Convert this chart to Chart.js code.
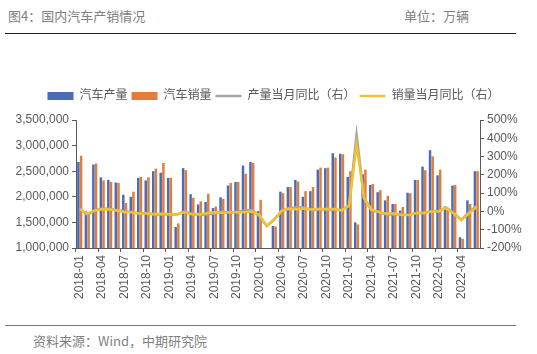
<!DOCTYPE html>
<html>
<head>
<meta charset="utf-8">
<script src="https://cdn.jsdelivr.net/npm/chart.js@4.4.1/dist/chart.umd.min.js"></script>
<style>
body{margin:0;width:537px;height:354px;background:#fff;position:relative;overflow:hidden;font-family:"Noto Sans CJK SC",sans-serif;}
.t{position:absolute;color:#7f7f7f;font-size:13px;line-height:16px;white-space:nowrap;}
.rule{position:absolute;left:5px;width:511px;height:1px;}
#box{position:absolute;left:0;top:78px;width:537px;height:236px;}
</style>
</head>
<body>
<div class="t" style="left:8px;top:8px">图4：国内汽车产销情况</div>
<div class="t" style="left:404px;top:8px">单位：万辆</div>
<div class="rule" style="top:33px;background:#222"></div>
<div id="box"><canvas id="autoCanvas"></canvas></div>
<div class="rule" style="top:325px;background:#777"></div>
<div class="t" style="left:33px;top:333px">资料来源：Wind，中期研究院</div>
<script>
// months on the x axis
const months = [
  "2018-01","2018-02","2018-03","2018-04","2018-05","2018-06","2018-07","2018-08","2018-09","2018-10","2018-11","2018-12",
  "2019-01","2019-02","2019-03","2019-04","2019-05","2019-06","2019-07","2019-08","2019-09","2019-10","2019-11","2019-12",
  "2020-01","2020-02","2020-03","2020-04","2020-05","2020-06","2020-07","2020-08","2020-09","2020-10","2020-11","2020-12",
  "2021-01","2021-02","2021-03","2021-04","2021-05","2021-06","2021-07","2021-08","2021-09","2021-10","2021-11","2021-12",
  "2022-01","2022-02","2022-03","2022-04","2022-05","2022-06"
];
// volumes in 万辆
const prodVol = [
  268,172,263,238,233,228,204,200,237,232,250,247,
  237,141,256,205,185,190,178,199,222,229,261,268,
  172,28.5,143,210,219,233,200,211,253,256,285,284,
  239,150,244,223,209,193,186,173,208,233,259,291,
  242,181,222,121,193,250
];
const salesVol = [
  280,170,265,232,229,227,188,210,239,238,255,266,
  237,148,252,198,191,206,181,196,227,229,245,266,
  194,31,142,207,219,230,211,219,257,257,277,283,
  250,146,253,225,213,202,186,180,207,233,252,279,
  253,174,223,118,186,250
];
// year on year, %
const prodYoy = [
  16,-19,6,16,13,6,1,-4,-11,-10,-18,-17,
  -17,-17,0,-14,-20,-17,-12,-1,-7,-2,4,8,
  -25,-80,-45,2,18,23,21,6,12,11,9,6,
  35,421,70,6,-5,-17,-16,-19,-18,-9,-9,2,
  1,21,-9,-46,-6,28
];
const salesYoy = [
  12,-11,5,12,10,5,-4,-4,-12,-12,-14,-13,
  -16,-14,-5,-15,-16,-10,-4,-7,-5,-4,-4,0,
  -18,-79,-43,4,15,12,16,12,13,13,13,6,
  30,365,75,9,-3,-12,-12,-18,-20,-9,-9,-2,
  1,19,-12,-48,-13,24
];

const axisCol = "#595959";
Chart.defaults.font.family = "'Liberation Sans','Noto Sans CJK SC',sans-serif";
Chart.defaults.color = axisCol;

// a bit more room under the legend
const legendGap = {
  id: "legendGap",
  beforeInit(chart) {
    const fit = chart.legend.fit;
    chart.legend.fit = function () {
      fit.bind(chart.legend)();
      this.height += 8;
    };
  }
};

new Chart(document.getElementById("autoCanvas"), {
  data: {
    labels: months,
    datasets: [{
      type: "bar", label: "汽车产量", data: prodVol,
      backgroundColor: "#4a6cb3", yAxisID: "y", order: 2,
      categoryPercentage: 0.72, barPercentage: 0.92
    }, {
      type: "bar", label: "汽车销量", data: salesVol,
      backgroundColor: "#e27c3a", yAxisID: "y", order: 2,
      categoryPercentage: 0.72, barPercentage: 0.92
    }, {
      type: "line", label: "产量当月同比（右）", data: prodYoy,
      borderColor: "#a5a5a5", borderWidth: 2.5, pointRadius: 0, tension: 0,
      yAxisID: "y1", order: 1
    }, {
      type: "line", label: "销量当月同比（右）", data: salesYoy,
      borderColor: "#f0c232", borderWidth: 2.5, pointRadius: 0, tension: 0,
      yAxisID: "y1", order: 0
    }]
  },
  plugins: [legendGap],
  options: {
    responsive: true,
    maintainAspectRatio: false,
    animation: false,
    layout: {padding: {top: 8, left: 10, right: 0, bottom: 0}},
    plugins: {
      tooltip: {enabled: false},
      legend: {
        position: "top",
        labels: {
          usePointStyle: true, pointStyleWidth: 26, boxHeight: 8,
          padding: 4, font: {size: 12}, color: axisCol,
          generateLabels(chart) {
            const items = Chart.defaults.plugins.legend.labels.generateLabels(chart);
            items.sort((a, b) => a.datasetIndex - b.datasetIndex);
            items.forEach(it => {
              const ds = chart.data.datasets[it.datasetIndex];
              if (ds.type === "line") {
                it.pointStyle = "line"; it.strokeStyle = ds.borderColor; it.lineWidth = 2.5;
              } else {
                it.pointStyle = "rect"; it.fillStyle = ds.backgroundColor; it.lineWidth = 0;
              }
            });
            return items;
          }
        }
      }
    },
    scales: {
      x: {
        grid: {drawOnChartArea: false, tickLength: 4,
          color: c => (c.index % 3 === 0 ? axisCol : "rgba(0,0,0,0)")},
        border: {color: axisCol},
        ticks: {autoSkip: false, maxRotation: 90, minRotation: 90, font: {size: 12},
          callback: (v, i) => (i % 3 === 0 ? months[i] : "")},
        afterFit: s => { s.height = 66; }
      },
      y: {
        position: "left", min: 100, max: 350,
        grid: {drawOnChartArea: false, tickLength: 4, color: axisCol},
        border: {color: axisCol},
        ticks: {stepSize: 50, font: {size: 12},
          callback: v => (v * 10000).toLocaleString("en-US")},
        afterFit: s => { s.width = 66; }
      },
      y1: {
        position: "right", min: -200, max: 500,
        grid: {drawOnChartArea: false, tickLength: 4, color: axisCol},
        border: {color: axisCol},
        ticks: {stepSize: 100, font: {size: 12}, callback: v => v + "%"},
        afterFit: s => { s.width = 57; }
      }
    }
  }
});
</script>
</body>
</html>
